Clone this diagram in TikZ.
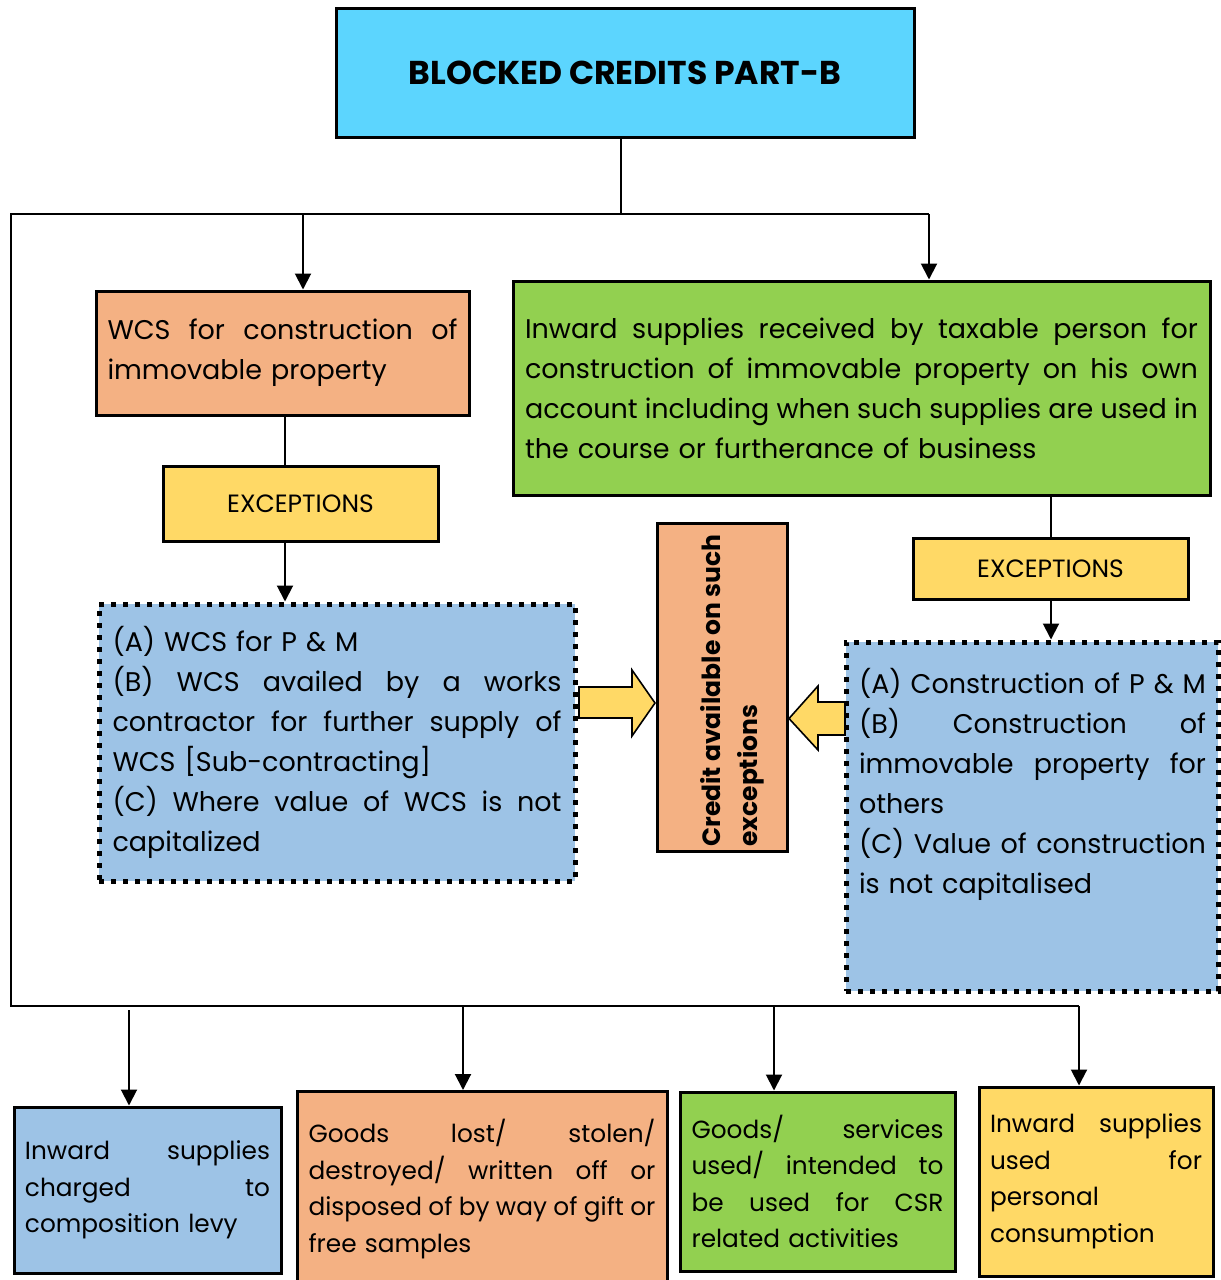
\documentclass[tikz,border=0pt]{standalone}
\usepackage{fontspec}
\setmainfont{Poppins}
\usetikzlibrary{arrows.meta,calc}
\definecolor{cyanT}{HTML}{5CD5FE}
\definecolor{orangeT}{HTML}{F4B183}
\definecolor{greenT}{HTML}{92D050}
\definecolor{yellowT}{HTML}{FFD966}
\definecolor{blueT}{HTML}{9DC3E6}
\newcommand{\jl}[1]{\makebox[\hsize][s]{\spaceskip=0.2em plus 1fil\relax #1}}
\newcommand{\mainfs}{\fontsize{13.5}{20}\selectfont}
\newcommand{\botfs}{\fontsize{12.4}{18.25}\selectfont}
\begin{document}
\begin{tikzpicture}[x=0.5pt,y=-0.5pt,
  box/.style={draw=black, line width=1.5pt, rectangle, inner sep=0pt, align=left},
  dotbox/.style={draw=black, line width=2.5pt, dash pattern=on 2.5pt off 3.5pt, rectangle, inner sep=0pt, align=left},
  conn/.style={draw=black, line width=1pt},
  arr/.style={conn, -{Triangle[width=8pt,length=8pt]}},
  blockarrow/.style={draw=black, line width=0.8pt, fill=yellowT, line join=miter}
]
\useasboundingbox (0,0) rectangle (1221,1280);

% top
\node[box, fill=cyanT, minimum width=289pt, minimum height=64.5pt, text height=11.5pt, text depth=-2.5pt, font=\fontsize{16.5}{19}\selectfont\bfseries] (title) at (625,72.5) {BLOCKED CREDITS PART-B};

\node[box, fill=orangeT, minimum width=186.5pt, minimum height=62pt, text width=175pt, font=\mainfs] (wcs) at (282.5,353)
 {\jl{WCS for construction of}\\immovable property};

\node[box, fill=yellowT, minimum width=137.5pt, minimum height=37.5pt, font=\fontsize{12.5}{14}\selectfont] (excl) at (300.5,503.5) {EXCEPTIONS};

\node[dotbox, fill=blueT, minimum width=238pt, minimum height=138.5pt, text width=224.5pt, font=\mainfs] (ldot) at (337,742.5)
 {(A) WCS for P \& M\\\jl{(B) WCS availed by a works}\\\jl{contractor for further supply of}\\WCS [Sub-contracting]\\\jl{(C) Where value of WCS is not}\\capitalized};

\node[box, fill=greenT, minimum width=348.5pt, minimum height=107pt, text width=336.5pt, font=\mainfs] (green) at (861.5,388)
 {\jl{Inward supplies received by taxable person for}\\\jl{construction of immovable property on his own}\\\jl{account including when such supplies are used in}\\the course or furtherance of business};

\node[box, fill=yellowT, minimum width=137.5pt, minimum height=30.5pt, font=\fontsize{12.5}{14}\selectfont] (excr) at (1050.5,568.5) {EXCEPTIONS};

\node[dotbox, fill=blueT, minimum width=186pt, minimum height=174.5pt] (rdot) at (1032,816.5) {};
\node[inner sep=0pt, text width=173.5pt, align=left, font=\mainfs] (rtext) at (1032.5,784)
 {\jl{(A) Construction of P \& M}\\\jl{(B) Construction of}\\\jl{immovable property for}\\others\\\jl{(C) Value of construction}\\is not capitalised};

\node[box, fill=orangeT, minimum width=65pt, minimum height=164pt] (cbox) at (722,687) {};
\node[rotate=90, anchor=north west, inner sep=0pt, align=left, font=\fontsize{12.5}{18.5}\selectfont\bfseries] (ctext) at (700,847)
 {Credit available on such\\exceptions};

% bottom boxes
\node[box, fill=blueT, minimum width=133.5pt, minimum height=83pt, text width=122.5pt, font=\botfs] (bblue) at (147.5,1190)
 {\jl{Inward supplies}\\\jl{charged to}\\composition levy};
\node[box, fill=orangeT, minimum width=185pt, minimum height=97.5pt, text width=173.5pt, font=\botfs] (borange) at (482,1189)
 {\jl{Goods lost/ stolen/}\\\jl{destroyed/ written off or}\\\jl{disposed of by way of gift or}\\free samples};
\node[box, fill=greenT, minimum width=137.5pt, minimum height=89.5pt, text width=126pt, font=\botfs] (bgreen) at (817.5,1181.5)
 {\jl{Goods/ services}\\\jl{used/ intended to}\\\jl{be used for CSR}\\related activities};
\node[box, fill=yellowT, minimum width=117pt, minimum height=94.5pt, text width=106pt, font=\botfs] (byellow) at (1096,1181.5)
 {\jl{Inward supplies}\\\jl{used for}\\personal\\consumption};

% connectors
\coordinate (j1) at (621,214);
\coordinate (tl) at (11,214);
\coordinate (tr) at (929,214);
\coordinate (bl) at (11,1006);
\coordinate (br) at (1079,1006);
\coordinate (a1) at (303,214);
\coordinate (a2) at (285,0);
\coordinate (a3) at (1051,0);
\coordinate (b1) at (129,1010);
\coordinate (b2) at (463,1006);
\coordinate (b3) at (774,1006);

\draw[conn] (title.south -| j1) -- (j1);
\draw[conn] (tr) -- (tl) -- (bl) -- (br);
\draw[arr] (tr) -- (tr |- green.north);
\draw[arr] (a1) -- (a1 |- wcs.north);
\draw[conn] (wcs.south -| a2) -- (excl.north -| a2);
\draw[arr] (excl.south -| a2) -- (ldot.north -| a2);
\draw[conn] (green.south -| a3) -- (excr.north -| a3);
\draw[arr] (excr.south -| a3) -- (rdot.north -| a3);
\draw[arr] (b1) -- (b1 |- bblue.north);
\draw[arr] (b2) -- (b2 |- borange.north);
\draw[arr] (b3) -- (b3 |- bgreen.north);
\draw[arr] (br) -- (br |- byellow.north);

% block arrows
\draw[blockarrow] (579,687) -- (632,687) -- (632,670) -- (655,703) -- (632,736) -- (632,718) -- (579,718) -- cycle;
\draw[blockarrow] (845,702) -- (818,702) -- (818,686) -- (789,718.5) -- (818,750) -- (818,735) -- (845,735) -- cycle;
\end{tikzpicture}
\end{document}
